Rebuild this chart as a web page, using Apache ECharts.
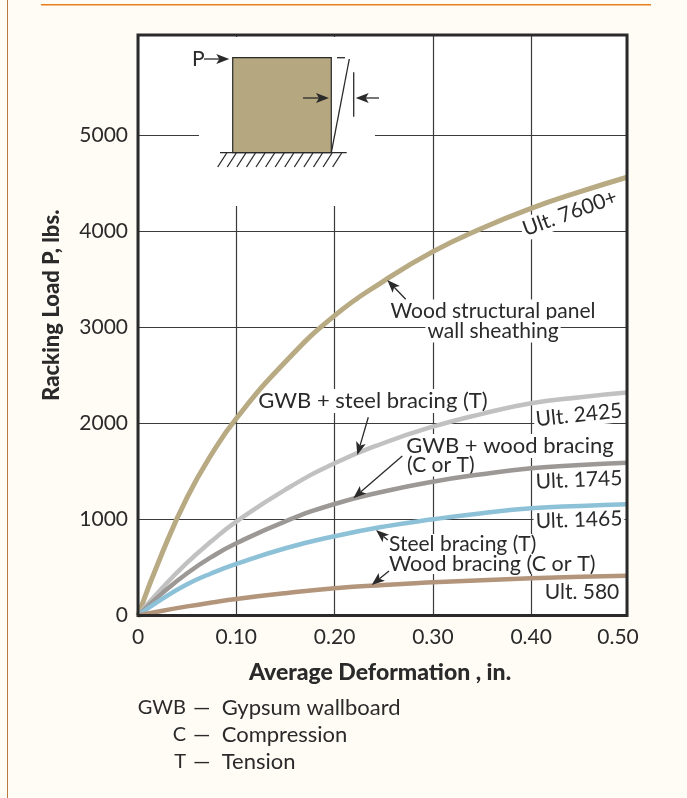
<!DOCTYPE html>
<html>
<head>
<meta charset="utf-8">
<style>
html,body{margin:0;padding:0;background:#fffcf5;}
#main{width:687px;height:798px;}
</style>
<script src="https://cdn.jsdelivr.net/npm/echarts@6/dist/echarts.min.js"></script>
</head>
<body>
<div id="main"></div>
<script>
// 读图得到的数据
var deformation = [0,0.025,0.05,0.075,0.1,0.15,0.2,0.25,0.3,0.35,0.4,0.45,0.4975];
var woodPanel = [0,660,1230,1680,2050,2640,3120,3480,3786,4030,4237,4410,4560];
var gwbSteel = [0,290,550,775,976,1310,1584,1795,1965,2098,2208,2272,2320];
var gwbWood = [0,235,440,610,751,980,1160,1290,1392,1470,1532,1565,1590];
var steelBrace = [0,175,325,440,536,700,825,925,1001,1065,1115,1140,1157];
var woodBrace = [0,50,95,135,172,232,283,318,345,368,387,402,414];

var xTicks = [0,0.1,0.2,0.3,0.4,0.4975];
var xTickLabels = ['0','0.10','0.20','0.30','0.40','0.50'];
var yTicks = [0,1000,2000,3000,4000,5000];

var notes = [['GWB','—  Gypsum wallboard'],['C','—  Compression'],['T','—  Tension']];

var ink = '#2b2a2b';
var gridL = 138, gridT = 35, gridR = 627, gridB = 615.5;

var chart = echarts.init(document.getElementById('main'));
var els = [];

function line(x1,y1,x2,y2,w,z){
    els.push({type:'line',z:z||6,shape:{x1:x1,y1:y1,x2:x2,y2:y2},style:{stroke:ink,lineWidth:w||1.3}});
}
// 箭头：线加三角形头
function arrow(x1,y1,x2,y2){
    var a = Math.atan2(y2-y1,x2-x1), len = 13, wide = 5;
    var bx = x2-Math.cos(a)*len, by = y2-Math.sin(a)*len;
    var nx = -Math.sin(a)*wide, ny = Math.cos(a)*wide;
    line(x1,y1,bx+Math.cos(a)*3,by+Math.sin(a)*3);
    els.push({type:'polygon',z:6,shape:{points:[[x2,y2],[bx+nx,by+ny],[bx+Math.cos(a)*3,by+Math.sin(a)*3],[bx-nx,by-ny]]},style:{fill:ink}});
}
function label(str,x,y,align,rot,pad,size){
    els.push({type:'text',z:1,x:x,y:y,rotation:(rot||0)*Math.PI/180,
        style:{text:str,x:0,y:0,font:(size||21)+'px Lato, sans-serif',fill:ink,align:align||'left',verticalAlign:'middle',
            backgroundColor:pad===0?'transparent':'#fff',padding:pad===0?0:(pad||[1,2,1,2])}});
}

// 页面上的橙色线
els.push({type:'rect',z:0,shape:{x:7,y:0,width:1,height:798},style:{fill:'#b87a3f'}});
els.push({type:'rect',z:0,shape:{x:41,y:4,width:610,height:1.4},style:{fill:'#e87d1e'}});

// 示意图区域把网格线遮掉
els.push({type:'rect',z:1,shape:{x:199,y:37,width:176,height:169},style:{fill:'#fff'}});
els.push({type:'rect',z:6,shape:{x:232.7,y:57.7,width:98.6,height:95},style:{fill:'#b5a77f',stroke:ink,lineWidth:1.2}});
line(220,152.7,346.7,152.7);
for(var i=0;i<13;i++){
    line(226.7+i*9.58,153,217.7+i*9.58,167);
}
line(331.3,152.7,349.3,59);
line(337,57.7,345,57.7);
line(353.7,72.3,353.7,116.7);
arrow(303,98,329,98);
arrow(379,98,355.7,98);
arrow(204,59,229.3,59);
label('P',192,59,'left',0,0);

// 曲线说明
label('Wood structural panel',493,311,'center');
label('wall sheathing',493,331,'center');
label('Ult. 7600+',570,213,'center',20);
label('GWB + steel bracing (T)',373,401,'center',0,null,22);
label('GWB + wood bracing',510,446,'center',0,null,22);
label('(C or T)',405,465,'left');
label('Ult. 2425',579,415,'center',6);
label('Ult. 1745',579,480,'center',2.5);
label('Ult. 1465',579,520,'center',2);
// 这两行靠得近，底色单独铺一块，免得互相遮字
els.push({type:'rect',z:1,shape:{x:388,y:534,width:152,height:22},style:{fill:'#fff'}});
els.push({type:'rect',z:1,shape:{x:388,y:554,width:210,height:20},style:{fill:'#fff'}});
label('Steel bracing (T)',389,544,'left',0,0);
label('Wood bracing (C or T)',389,564,'left',0,0,21.5);
label('Ult. 580',582,592,'center',0,0);

arrow(405.7,299.3,387.3,280);
arrow(368.3,417.3,357.3,455);
arrow(402.3,456,353.3,498.3);
arrow(387.7,540,376,530);
arrow(389,571,371.7,585);

// 外框
els.push({type:'rect',z:5,shape:{x:gridL,y:gridT,width:gridR-gridL,height:gridB-gridT},style:{fill:'none',stroke:ink,lineWidth:3}});

// 缩写说明
for(var j=0;j<notes.length;j++){
    label(notes[j][0],186,708+j*27,'right',0,0,20);
    label(notes[j][1],193,708+j*27,'left',0,0,22);
}

function curve(name,values,color,w){
    var data = values.map(function(v,k){return [deformation[k],v];});
    return {name:name,type:'line',data:data,smooth:0.5,showSymbol:false,
        lineStyle:{color:color,width:w},itemStyle:{color:color}};
}

var option = {
    backgroundColor:'#fffcf5',
    animation:false,
    textStyle:{fontFamily:'Lato, sans-serif'},
    grid:{left:gridL,top:gridT,width:gridR-gridL,height:gridB-gridT,show:true,backgroundColor:'#fff',borderWidth:0},
    xAxis:{
        type:'value',min:0,max:0.4975,
        name:'Average Deformation , in.',nameLocation:'middle',nameGap:46,
        nameTextStyle:{color:ink,fontWeight:900,fontSize:23,padding:[0,5,0,0]},
        axisLine:{show:false},
        axisTick:{show:false,customValues:xTicks},
        axisLabel:{
            customValues:xTicks,color:ink,fontSize:21,margin:11,
            formatter:function(v){
                var k = xTicks.indexOf(v);
                if(k==xTicks.length-1) return '{last|'+xTickLabels[k]+'}';
                return xTickLabels[k];
            },
            rich:{last:{fontSize:21,color:ink,padding:[0,18,0,0]}}
        },
        splitLine:{show:true,lineStyle:{color:'#3c3b3c',width:1.2}}
    },
    yAxis:{
        type:'value',min:0,max:6040,
        name:'Racking Load P, lbs.',nameLocation:'middle',nameGap:75,
        nameTextStyle:{color:ink,fontWeight:900,fontSize:22,padding:[0,0,0,40]},
        axisLine:{show:false},
        axisTick:{show:false,customValues:yTicks},
        axisLabel:{
            customValues:yTicks,color:ink,fontSize:21,margin:10,
            formatter:function(v){return String(v);}
        },
        splitLine:{show:true,lineStyle:{color:'#3c3b3c',width:1.2}}
    },
    graphic:{elements:els},
    series:[
        curve('Wood structural panel',woodPanel,'#b8aa82',5),
        curve('GWB + steel bracing',gwbSteel,'#c1c1c1',4.5),
        curve('GWB + wood bracing',gwbWood,'#9c9896',4.5),
        curve('Steel bracing',steelBrace,'#8cc1d8',4.5),
        curve('Wood bracing',woodBrace,'#b3957b',4.5)
    ]
};
chart.setOption(option);
</script>
</body>
</html>
